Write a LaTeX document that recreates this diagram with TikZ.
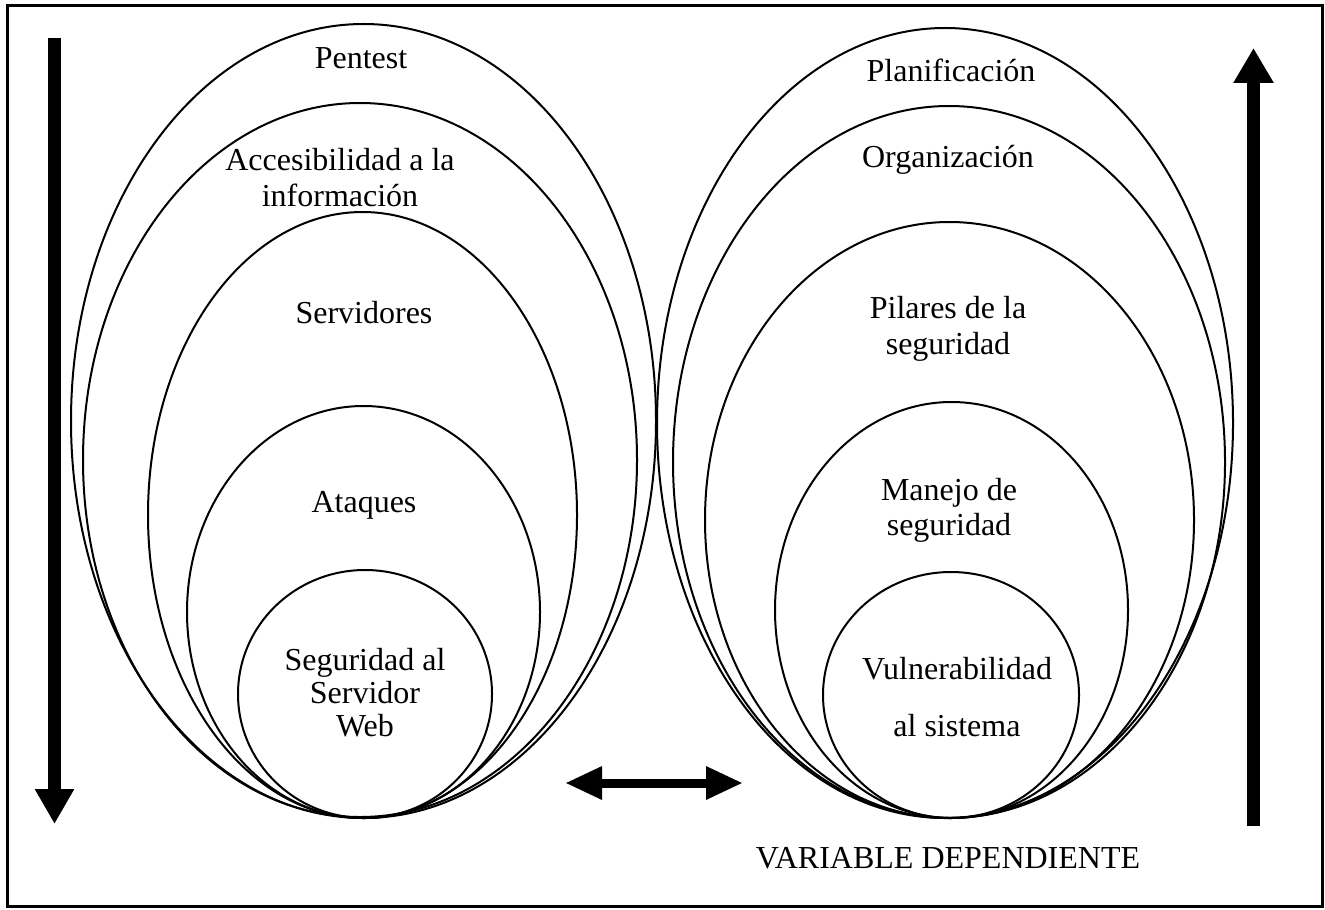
\documentclass[tikz,border=0pt]{standalone}
\usepackage{fontspec}
\setmainfont{Liberation Serif}
\usetikzlibrary{arrows.meta}
\begin{document}
\begin{tikzpicture}[x=0.5pt,y=0.5pt,
  ring/.style={line width=1pt},
  lbl/.style={font=\fontsize{16}{18}\selectfont, align=center, inner sep=0pt},
  bigarrow/.style={line width=6.5pt, -{Triangle[length=17.5pt,width=18.5pt]}},
  dblarrow/.style={line width=4.5pt, {Triangle[length=18.5pt,width=15.5pt]}-{Triangle[length=18.5pt,width=15.5pt]}}
]
\useasboundingbox (0,0) rectangle (1325,-909);
\draw[line width=1.5pt] (7,-5.5) rectangle (1322.5,-906.5);

% left group
\draw[ring] (363.5,-421) ellipse [x radius=292.5, y radius=397];
\draw[ring] (360,-460) ellipse [x radius=277, y radius=357];
\draw[ring] (362.5,-515) ellipse [x radius=214.5, y radius=303];
\draw[ring] (363.5,-612) ellipse [x radius=176.5, y radius=206];
\draw[ring] (365,-694) ellipse [x radius=127, y radius=124];

% right group
\draw[ring] (945,-423) ellipse [x radius=288, y radius=395];
\draw[ring] (949,-462) ellipse [x radius=276, y radius=356];
\draw[ring] (949.5,-520) ellipse [x radius=244.5, y radius=298];
\draw[ring] (951.5,-610) ellipse [x radius=176.5, y radius=208];
\draw[ring] (951,-695) ellipse [x radius=128, y radius=123];

% labels left
\node[lbl] (pentest) at (361,-58) {Pentest};
\node[lbl] (acces) at (340,-177.5) {Accesibilidad a la\\información};
\node[lbl] (serv) at (364,-313) {Servidores};
\node[lbl] (ataq) at (364,-505) {Ataques};
\node[lbl, font=\fontsize{16}{16.5}\selectfont] (segur) at (365,-693) {Seguridad al\\Servidor\\Web};

% labels right
\node[lbl] (plan) at (951,-70) {Planificación};
\node[lbl] (organ) at (948,-160) {Organización};
\node[lbl] (pilar) at (948,-329) {Pilares de la\\seguridad};
\node[lbl, font=\fontsize{16}{17.5}\selectfont] (manejo) at (949,-510.5) {Manejo de\\seguridad};
\node[lbl, font=\fontsize{16}{28.5}\selectfont] (vuln) at (957,-697.5) {Vulnerabilidad\\al sistema};
\node[lbl] (vardep) at (948,-858) {VARIABLE DEPENDIENTE};

% arrows
\coordinate (la1) at (54.5,-38);
\coordinate (la2) at (54.5,-824);
\draw[bigarrow] (la1) -- (la2);
\coordinate (ra1) at (1253.5,-826);
\coordinate (ra2) at (1253.5,-48);
\draw[line width=6.5pt, -{Triangle[length=17.5pt,width=19pt]}] (ra1) -- (ra2);
\coordinate (da1) at (565,-783);
\coordinate (da2) at (743,-783);
\draw[dblarrow] (da1) -- (da2);
\end{tikzpicture}
\end{document}
